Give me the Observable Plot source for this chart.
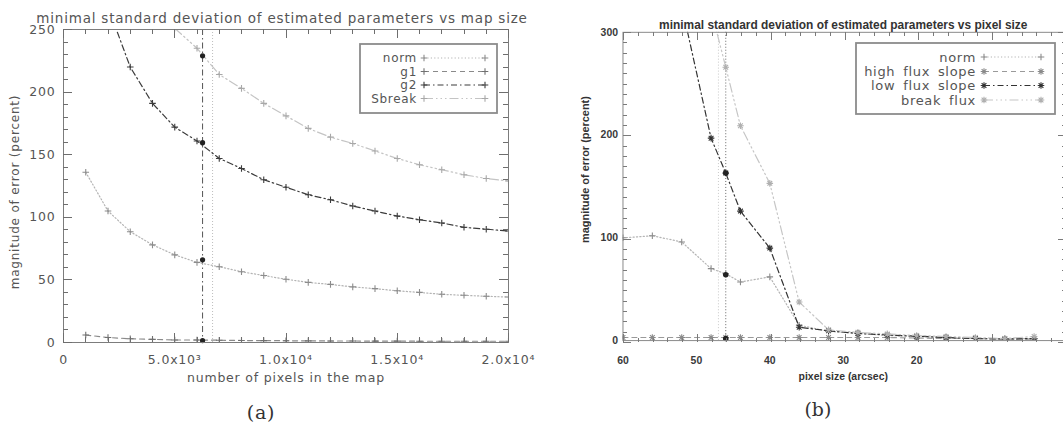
<!DOCTYPE html>
<html><head><meta charset="utf-8">
<script src="https://cdn.jsdelivr.net/npm/d3@7"></script>
<script src="https://cdn.jsdelivr.net/npm/@observablehq/plot@0.6"></script>
<style>
html,body{margin:0;padding:0;background:#fff;}
body{width:1063px;height:424px;overflow:hidden;position:relative;}
.panel{position:absolute;top:0;}
.panel svg{overflow:visible;}
.leg{position:absolute;top:0;left:0;overflow:visible;}
</style></head><body>
<div id="a" class="panel" style="left:0"></div>
<div id="b" class="panel" style="left:530px"></div>
<svg id="legs" class="leg" width="1063" height="424"></svg>
<script>
// ---------- panel (a) data ----------
const mapSize = [1000,2000,3000,4000,5000,6000,7000,8000,9000,10000,11000,12000,13000,14000,15000,16000,17000,18000,19000,20000];
const normA   = [136,105,88.5,78,70,64,60.5,56.5,53.5,50.5,48,46.4,44.4,43,41.3,40,38.5,37.7,36.9,36.3];
const g1A     = [6,4,3,2.5,2,2,1.8,1.6,1.5,1.4,1.3,1.2,1.2,1.1,1.1,1,1,1,1,1];
const g2A     = [null,268,220,191,172,161,147,139,130,124,118,114,109,105,101,98,95.5,92,90.5,89];
const sbreakA = [null,null,null,null,251,235,214,203,191,181,171,164,159,153,147,142,138,134,131,129];
const optimalMapSize = [6250];
const refMapSize = [6700];
const optimalNamesA = ["norm","g1","g2","Sbreak"];
const optimalValuesA = [66,1.5,159.6,229];
const seriesNamesA = ["norm","g1","g2","Sbreak"];
const xTicksA = [0,5000,10000,15000,20000];
const xTickLabelsA = ["0","5.0x10³","1.0x10⁴","1.5x10⁴","2.0x10⁴"];
const yTicksA = [0,50,100,150,200,250];

// ---------- panel (b) data ----------
const pixelSize = [60,56,52,48,46,44,40,36,32,28,24,20,16,12,8,4];
const normB  = [100,102,96,70,65,57,62,15,9,7,5,4,3,2,1.5,2];
const highB  = [3,3,3,3,3,3,3,3,3,3,3,2.5,2,2,1.5,1.5];
const lowB   = [null,null,326,197,163,126,90,13,9.5,7,5.5,4.3,3,2,1.5,2];
const breakB = [null,null,null,322,266,209,153,37.5,10.5,8,6.5,5,4,3,2,4];
const optimalPixel = [46];
const refPixel = [47];
const optimalNamesB = ["norm","high flux slope","low flux slope"];
const optimalValuesB = [64,2,163];
const seriesNamesB = ["norm","high flux slope","low flux slope","break flux"];
const xTicksB = [60,50,40,30,20,10];
const yTicksB = [0,100,200,300];

// ---------- styles ----------
const plusSym = {draw(ctx,size){const r=Math.sqrt(size/Math.PI);ctx.moveTo(-r,0);ctx.lineTo(r,0);ctx.moveTo(0,-r);ctx.lineTo(0,r);}};
const starSym = {draw(ctx,size){const r=Math.sqrt(size/Math.PI),d=r*0.72;ctx.moveTo(-r,0);ctx.lineTo(r,0);ctx.moveTo(0,-r);ctx.lineTo(0,r);ctx.moveTo(-d,-d);ctx.lineTo(d,d);ctx.moveTo(-d,d);ctx.lineTo(d,-d);}};
const styleA = {
  norm:   {line:"#b4b4b4", mark:"#8c8c8c", dash:"1.2,2.2", sym:plusSym},
  g1:     {line:"#8a8a8a", mark:"#707070", dash:"5,4", sym:plusSym},
  g2:     {line:"#3c3c3c", mark:"#3c3c3c", dash:"6,3,1.5,3", sym:plusSym},
  Sbreak: {line:"#c4c4c4", mark:"#a8a8a8", dash:"9,3,1.5,3,1.5,3,1.5,3", sym:plusSym}
};
const styleB = {
  "norm":            {line:"#b4b4b4", mark:"#8c8c8c", dash:"1.2,2.2", sym:plusSym},
  "high flux slope": {line:"#9a9a9a", mark:"#8a8a8a", dash:"5,4", sym:starSym},
  "low flux slope":  {line:"#333", mark:"#333", dash:"6,3,1.5,3", sym:starSym},
  "break flux":      {line:"#c6c6c6", mark:"#b0b0b0", dash:"9,3,1.5,3,1.5,3,1.5,3", sym:starSym}
};
const rows = (xs, ys) => xs.map((x,i)=>({x, y: ys[i]})).filter(d => d.y != null);

function seriesMarks(xs, names, valueArrays, styles, r) {
  const out = [];
  names.forEach((n,k) => {
    const s = styles[n], data = rows(xs, valueArrays[k]);
    out.push(Plot.line(data, {x:"x", y:"y", stroke:s.line, strokeWidth:1.2, strokeDasharray:s.dash, clip:true}));
    out.push(Plot.dot(data, {x:"x", y:"y", symbol:s.sym, r, stroke:s.mark, fill:"none", strokeWidth:1.1, clip:true}));
  });
  return out;
}

// ---------- panel (a) ----------
const fontA = "DejaVu Sans";
const plotA = Plot.plot({
  width:530, height:424,
  marginLeft:63, marginRight:22, marginTop:29, marginBottom:82,
  style:{fontFamily:fontA, fontSize:"12.5px", color:"#555", background:"transparent"},
  x:{domain:[0,20000]},
  y:{domain:[0,250]},
  marks:[
    Plot.ruleX(refMapSize, {stroke:"#bdbdbd", strokeDasharray:"1,2"}),
    Plot.ruleX(optimalMapSize, {stroke:"#555", strokeDasharray:"6,3,1.5,3"}),
    ...seriesMarks(mapSize, seriesNamesA, [normA,g1A,g2A,sbreakA], styleA, 3.3),
    Plot.dot(optimalNamesA.map((n,i)=>({x:optimalMapSize[0], y:optimalValuesA[i]})), {x:"x", y:"y", r:2.6, fill:"#222"}),
    Plot.frame({stroke:"#7c7c7c"}),
    Plot.axisX({anchor:"bottom", ticks:xTicksA, tickSize:0, tickPadding:13, tickFormat:v => xTickLabelsA[xTicksA.indexOf(v)], label:null, fill:"#555"}),
    Plot.axisY({anchor:"left", ticks:yTicksA, tickSize:0, tickPadding:8, label:null, fill:"#555"}),
    Plot.text(["minimal standard deviation of estimated parameters vs map size"], {frameAnchor:"top", dy:-16, dx:-4, fontSize:13.5, fill:"#555"}),
    Plot.text(["number of pixels in the map"], {frameAnchor:"bottom", dy:39, fontSize:12.5, fill:"#555"}),
    Plot.text(["magnitude of error (percent)"], {frameAnchor:"left", textAnchor:"middle", dx:-48, dy:6, rotate:-90, fontSize:12, fill:"#555"}),
    Plot.text(["(a)"], {frameAnchor:"bottom", dx:-25, dy:76, fontSize:19, fontFamily:"DejaVu Serif", fill:"#333"})
  ]
});
document.getElementById("a").append(plotA);

// ---------- panel (b) ----------
const fontB = "Liberation Sans";
const plotB = Plot.plot({
  width:536, height:424,
  marginLeft:93, marginRight:0, marginTop:32, marginBottom:82,
  style:{fontFamily:fontB, fontSize:"10.5px", fontWeight:"bold", color:"#3a3a3a", background:"transparent"},
  x:{domain:[60,0]},
  y:{domain:[0,300]},
  marks:[
    Plot.ruleX(refPixel, {stroke:"#c8c8c8", strokeDasharray:"1,2"}),
    Plot.ruleX(optimalPixel, {stroke:"#666", strokeDasharray:"1,2"}),
    ...seriesMarks(pixelSize, seriesNamesB, [normB,highB,lowB,breakB], styleB, 3.3),
    Plot.dot(optimalNamesB.map((n,i)=>({x:optimalPixel[0], y:optimalValuesB[i]})), {x:"x", y:"y", r:2.8, fill:"#222"}),
    Plot.frame({stroke:"#8a8a8a"}),
    Plot.axisX({anchor:"bottom", ticks:xTicksB, tickSize:0, tickPadding:16, label:null, fill:"#3a3a3a"}),
    Plot.axisY({anchor:"left", ticks:yTicksB, tickSize:0, tickPadding:5, label:null, fill:"#3a3a3a"}),
    Plot.text(["minimal standard deviation of estimated parameters vs pixel size"], {frameAnchor:"top", dy:-12, fontSize:12, fill:"#333"}),
    Plot.text(["pixel size (arcsec)"], {frameAnchor:"bottom", dy:40, fontSize:10.5, fill:"#333"}),
    Plot.text(["magnitude of error (percent)"], {frameAnchor:"left", textAnchor:"middle", dx:-38, dy:-17, rotate:-90, fontSize:11, fill:"#333"}),
    Plot.text(["(b)"], {frameAnchor:"bottom", dx:-25.5, dy:76, fontSize:19, fontFamily:"DejaVu Serif", fontWeight:"normal", fill:"#333"})
  ]
});
document.getElementById("b").append(plotB);
d3.select(plotA).selectAll("text").style("letter-spacing","0.8px");

const legs = d3.select("#legs");

// ---------- inward frame ticks, placed with each plot's own scales ----------
function frameTicks(plot, offsetX, xMajor, xMinor, yMajor, yMinor, majorLen, minorLen, color) {
  const sx = plot.scale("x"), sy = plot.scale("y");
  const [xl, xr] = sx.range, [yb, yt] = sy.range;
  const g = legs.append("g").attr("transform", `translate(${offsetX},0)`)
    .attr("stroke", color).attr("stroke-width", 1).attr("shape-rendering", "crispEdges");
  const add = (x1, y1, x2, y2) => g.append("line").attr("x1", x1).attr("y1", y1).attr("x2", x2).attr("y2", y2);
  for (const [vals, L] of [[xMinor, minorLen], [xMajor, majorLen]]) for (const v of vals) {
    const X = Math.round(sx.apply(v)) + 0.5;
    add(X, yb, X, yb - L); add(X, yt, X, yt + L);
  }
  for (const [vals, L] of [[yMinor, minorLen], [yMajor, majorLen]]) for (const v of vals) {
    const Y = Math.round(sy.apply(v)) + 0.5;
    add(xl, Y, xl + L, Y); add(xr, Y, xr - L, Y);
  }
}
frameTicks(plotA, 0, xTicksA, d3.range(0,20001,1000), yTicksA, d3.range(0,251,10), 9, 5, "#6e6e6e");
frameTicks(plotB, 530, xTicksB, d3.range(0,61,2), yTicksB, d3.range(0,301,10), 8, 4, "#7a7a7a");

// ---------- legends ----------
function drawLegend(box, names, styles, rowYs, textRight, lineL, lineR, fontSize) {
  const g = legs.append("g");
  g.append("rect").attr("x",box[0]).attr("y",box[1]).attr("width",box[2]-box[0]).attr("height",box[3]-box[1])
    .attr("fill","#fff").attr("stroke","#8c8c8c").attr("stroke-width",1.8);
  names.forEach((n,i) => {
    const s = styles[n], y = rowYs[i];
    g.append("text").attr("x",textRight).attr("y",y).attr("dy","0.35em").attr("text-anchor","end")
      .attr("font-family","DejaVu Sans").attr("font-size",fontSize).attr("fill","#555")
      .style("letter-spacing","0.7px").style("word-spacing","3px").text(n);
    g.append("line").attr("x1",lineL).attr("x2",lineR).attr("y1",y).attr("y2",y)
      .attr("stroke",s.line).attr("stroke-width",1.2).attr("stroke-dasharray",s.dash);
    for (const x of [lineL,lineR]) {
      const r = 3.3;
      const p = d3.path(); s.sym.draw(p, Math.PI*r*r);
      g.append("path").attr("d",p.toString()).attr("transform",`translate(${x},${y})`)
        .attr("stroke",s.mark).attr("stroke-width",1.1).attr("fill","none");
    }
  });
}
drawLegend([360,44,497,113], seriesNamesA, styleA, [58,71.5,85,98.5], 417, 424, 485, 12);
drawLegend([856,43,1055,114], seriesNamesB, styleB, [57,71.5,85.5,100], 976, 984, 1041, 13);
</script>
</body></html>
